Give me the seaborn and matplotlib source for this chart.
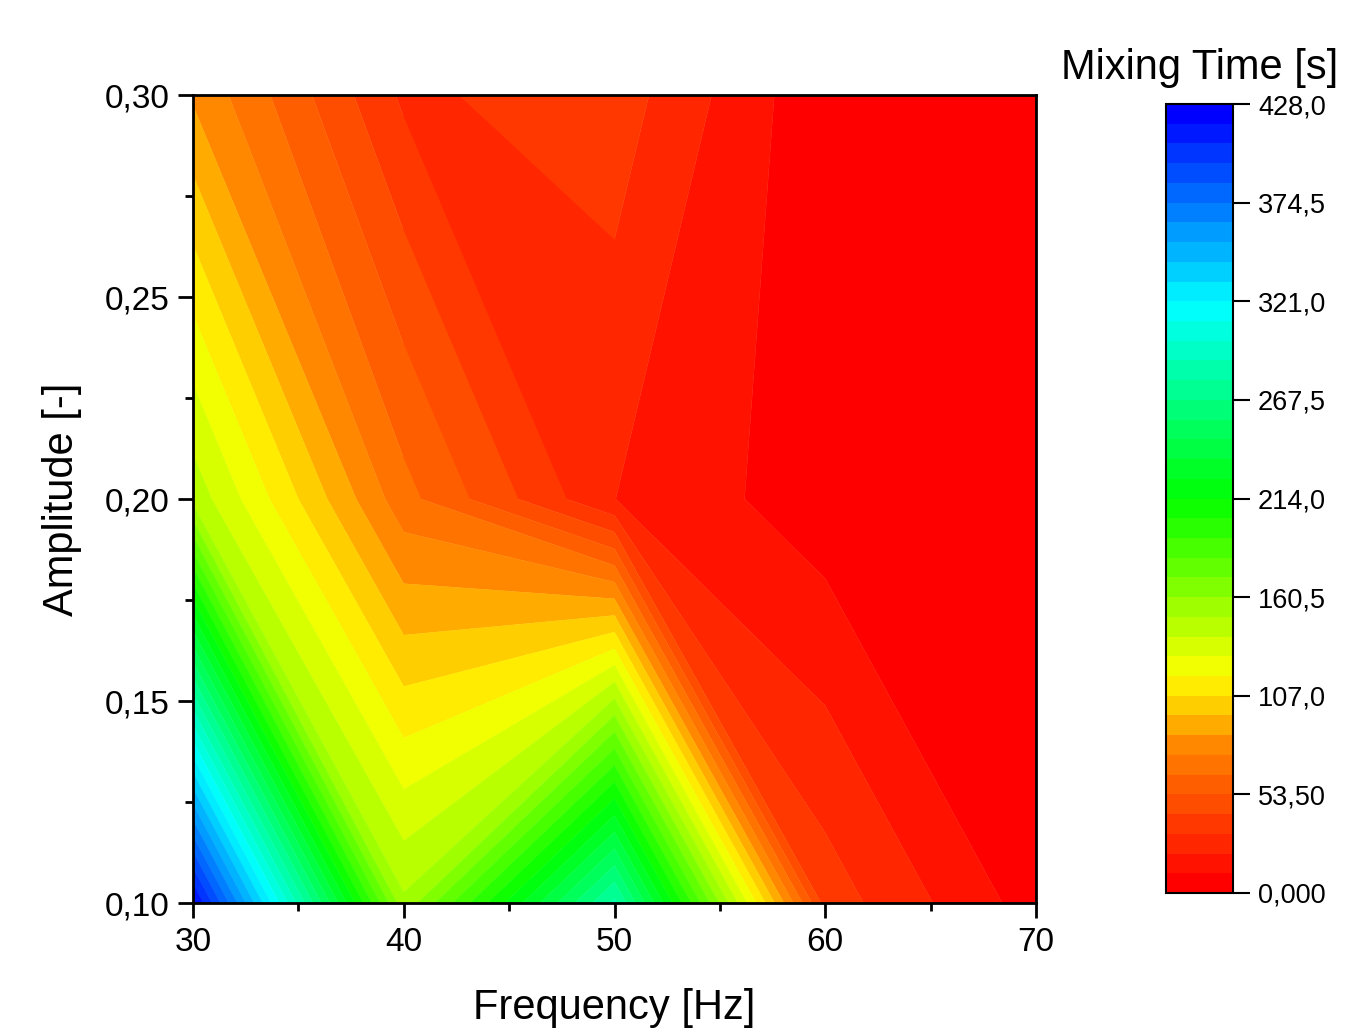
import numpy as np
import pandas as pd
import seaborn as sns
import matplotlib
matplotlib.use("Agg")
import matplotlib.pyplot as plt
import matplotlib.tri as mtri
from matplotlib.colors import LinearSegmentedColormap, ListedColormap, BoundaryNorm
from matplotlib.ticker import FixedLocator, FuncFormatter

# ---------------- data ----------------
freq = [30, 40, 50, 60, 70]                 # Frequency [Hz]
amplitude = [0.10, 0.20, 0.30]              # Amplitude [-]
mixing_amp010 = [420, 152, 281, 38, 5.5]    # Mixing time [s] at A = 0.10
mixing_amp020 = [146, 68, 21.5, 4, 1.5]     # Mixing time [s] at A = 0.20
mixing_amp030 = [84, 30, 38, 2, 0.5]        # Mixing time [s] at A = 0.30
cbar_ticks = [0, 53.5, 107, 160.5, 214, 267.5, 321, 374.5, 428]
cbar_ticklabels = ["0,000", "53,50", "107,0", "160,5", "214,0", "267,5", "321,0", "374,5", "428,0"]

rows = [mixing_amp010, mixing_amp020, mixing_amp030]
df = pd.DataFrame([(f, a, rows[j][i]) for j, a in enumerate(amplitude) for i, f in enumerate(freq)],
                  columns=["freq", "amp", "time"])
grid = df.pivot(index="amp", columns="freq", values="time")

# ---------------- style ----------------
sns.set_theme(style="ticks")
plt.rcParams["font.family"] = ["Liberation Sans", "DejaVu Sans"]
plt.rcParams["axes.linewidth"] = 2.0

fig = plt.figure(figsize=(13.49, 10.34), dpi=100)
ax = fig.add_axes([193 / 1349, 1 - 903 / 1034, (1036 - 193) / 1349, (903 - 95) / 1034])
cax = fig.add_axes([1166 / 1349, 1 - 893 / 1034, (1233 - 1166) / 1349, (893 - 104) / 1034])

# colour palette (Origin-like rainbow, red -> yellow -> green -> cyan -> blue)
base = LinearSegmentedColormap.from_list(
    "rb", [(0.0, "#ff0000"), (0.17, "#ff8000"), (0.27, "#ffff00"),
           (0.5, "#00ff00"), (0.75, "#00ffff"), (1.0, "#0000ff")])
nlev = 40
levels = np.linspace(0, 428, nlev + 1)
cmap = ListedColormap([base(i / (nlev - 1)) for i in range(nlev)])
norm = BoundaryNorm(levels, nlev)

# filled contours on the measurement grid
cs = ax.contourf(grid.columns.values, grid.index.values, grid.values,
                 levels=levels, cmap=cmap, norm=norm, antialiased=True)
cs.set_edgecolor("face")
cs.set_linewidth(0.3)

# the saddle cell (40-50 Hz, 0.20-0.30) split along its falling diagonal, as in the original
nx = len(freq)
i, j = 1, 1
LL, LR = j * nx + i, j * nx + i + 1
UL, UR = (j + 1) * nx + i, (j + 1) * nx + i + 1
tri = mtri.Triangulation(df["freq"].values, df["amp"].values,
                         triangles=np.array([[UL, UR, LR], [UL, LL, LR]]))
ts = ax.tricontourf(tri, df["time"].values, levels=levels, cmap=cmap, norm=norm,
                    antialiased=True, zorder=2)
ts.set_edgecolor("face")
ts.set_linewidth(0.3)

ax.set_xlim(30, 70)
ax.set_ylim(0.10, 0.30)
ax.xaxis.set_major_locator(FixedLocator([30, 40, 50, 60, 70]))
ax.xaxis.set_minor_locator(FixedLocator([35, 45, 55, 65]))
ax.yaxis.set_major_locator(FixedLocator([0.10, 0.15, 0.20, 0.25, 0.30]))
ax.yaxis.set_minor_locator(FixedLocator([0.125, 0.175, 0.225, 0.275]))
ax.yaxis.set_major_formatter(FuncFormatter(lambda v, p: f"{v:.2f}".replace(".", ",")))
ax.xaxis.set_major_formatter(FuncFormatter(lambda v, p: f"{v:.0f}"))
ax.tick_params(axis="both", which="major", direction="out", length=11, width=2,
               labelsize=24, pad=6, top=False, right=False, colors="black")
ax.tick_params(axis="both", which="minor", direction="out", length=6, width=2,
               top=False, right=False, colors="black")
for s in ax.spines.values():
    s.set_visible(True)
    s.set_color("black")
    s.set_linewidth(2)
    s.set_zorder(5)
ax.set_xlabel("Frequency [Hz]", fontsize=30, labelpad=22, color="black")
ax.set_ylabel("Amplitude [-]", fontsize=30, labelpad=16, color="black")

cb = fig.colorbar(cs, cax=cax, ticks=cbar_ticks)
cb.ax.set_yticklabels(cbar_ticklabels)
cb.ax.minorticks_off()
cb.ax.tick_params(direction="out", length=12, width=1.5, labelsize=19.5, pad=6, colors="black")
cb.outline.set_linewidth(1.5)
cb.outline.set_edgecolor("black")
cax.set_title("Mixing Time [s]", fontsize=30, pad=18, color="black")

fig.savefig("out.png", dpi=100, facecolor="white")
